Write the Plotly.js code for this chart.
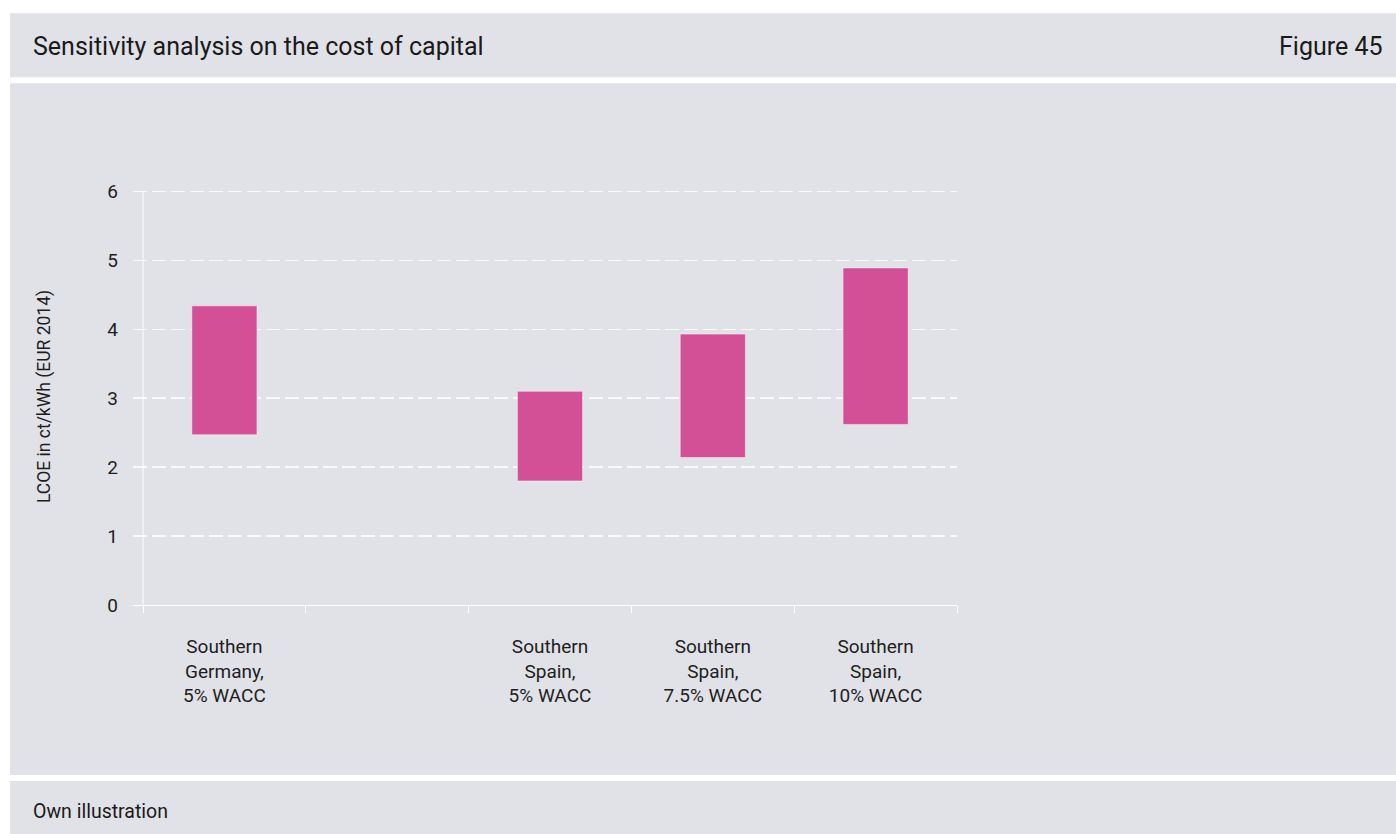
<!DOCTYPE html>
<html>
<head>
<meta charset="utf-8">
<script src="https://cdn.plot.ly/plotly-3.0.1.min.js"></script>
<style>
  html, body { margin: 0; padding: 0; background: #ffffff; }
  #chart { width: 1396px; height: 834px; }
</style>
</head>
<body>
<div id="chart"></div>
<script>
// ---- data ----
const categories = [
  "Southern<br>Germany,<br>5% WACC",
  " ",
  "Southern<br>Spain,<br>5% WACC",
  "Southern<br>Spain,<br>7.5% WACC",
  "Southern<br>Spain,<br>10% WACC"
];
const lowValues  = [2.47, null, 1.80, 2.14, 2.62];
const highValues = [4.34, null, 3.10, 3.93, 4.89];
const yTickValues = [0, 1, 2, 3, 4, 5, 6];
const titleText = "Sensitivity analysis on the cost of capital";
const figureText = "Figure 45";
const sourceText = "Own illustration";
const yAxisTitle = "LCOE in ct/kWh (EUR 2014)";

// ---- layout geometry (pixels) ----
const W = 1396, H = 834;
const yMax = 6.05;
const unit = (605 - 191.3) / 6;
const plotL = 133, plotR = 957, plotB = 605, plotT = plotB - yMax * unit;
const pw = plotR - plotL, ph = plotB - plotT;
const px = x => (x - plotL) / pw;
const py = y => (plotB - y) / ph;

const panel = "#e1e2e7";
const FONT = "Roboto, 'Liberation Sans', sans-serif";
const TXT = "#1e1e1e";

const spans = highValues.map((h, i) => (h === null || lowValues[i] === null) ? null : h - lowValues[i]);

const trace = {
  type: "bar",
  x: categories,
  y: spans,
  base: lowValues,
  width: 0.4,
  marker: { color: "#d35097", line: { color: "rgba(255,255,255,0.45)", width: 1 } },
  hoverinfo: "skip",
  showlegend: false
};

const catWidth = (plotR - 143) / categories.length;
const xLeft = -0.5 - (143 - plotL) / catWidth;

function rect(x0, y0, x1, y1) {
  return { type: "rect", xref: "paper", yref: "paper", layer: "below",
    x0: px(x0), x1: px(x1), y0: py(y1), y1: py(y0),
    fillcolor: panel, line: { width: 0 } };
}

const layout = {
  width: W, height: H,
  margin: { l: plotL, r: W - plotR, t: plotT, b: H - plotB, pad: 0 },
  paper_bgcolor: "#ffffff",
  plot_bgcolor: "rgba(0,0,0,0)",
  font: { family: FONT, color: TXT },
  xaxis: {
    type: "category",
    categoryorder: "array",
    categoryarray: categories,
    range: [xLeft, categories.length - 0.5],
    tickson: "boundaries",
    ticks: "outside",
    ticklen: 7,
    tickcolor: "#ffffff",
    tickwidth: 1,
    showgrid: false,
    showline: true,
    linecolor: "#ffffff",
    linewidth: 1,
    zeroline: false,
    ticklabelstandoff: 24,
    tickfont: { family: FONT, size: 19, color: TXT },
    fixedrange: true
  },
  yaxis: {
    range: [0, yMax],
    tickmode: "array",
    tickvals: yTickValues,
    ticktext: yTickValues.map(String),
    ticks: "",
    ticklabelstandoff: 14,
    showline: false,
    zeroline: false,
    showgrid: true,
    gridcolor: "#f9f9fb",
    griddash: "14px,5px",
    gridwidth: 1.5,
    tickfont: { family: FONT, size: 19, color: TXT },
    title: { text: yAxisTitle, font: { family: FONT, size: 17.5, color: TXT }, standoff: 52 },
    fixedrange: true
  },
  shapes: [
    rect(10, 13, W + 5, 77),
    rect(10, 83, W + 5, 775),
    rect(10, 781, W + 5, H + 5),
    { type: "line", xref: "x", yref: "y", x0: -0.5, x1: -0.5, y0: 0, y1: 6,
      line: { color: "#ffffff", width: 1 }, layer: "above" }
  ],
  annotations: [
    { xref: "paper", yref: "paper", x: px(31), y: py(46), xanchor: "left", yanchor: "middle",
      text: titleText, showarrow: false, font: { family: FONT, size: 25, color: "#1a1a1a" } },
    { xref: "paper", yref: "paper", x: px(1385), y: py(46), xanchor: "right", yanchor: "middle",
      text: figureText, showarrow: false, font: { family: FONT, size: 25, color: "#1a1a1a" } },
    { xref: "paper", yref: "paper", x: px(31), y: py(812), xanchor: "left", yanchor: "middle",
      text: sourceText, showarrow: false, font: { family: FONT, size: 19.5, color: "#1a1a1a" } }
  ],
  bargap: 0.6,
  hovermode: false
};

Plotly.newPlot("chart", [trace], layout, { displayModeBar: false, staticPlot: true });
</script>
</body>
</html>
